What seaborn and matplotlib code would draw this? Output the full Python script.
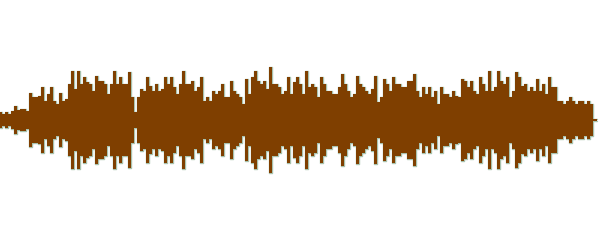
import numpy as np
import pandas as pd
import matplotlib
matplotlib.use("Agg")
import matplotlib.pyplot as plt
import seaborn as sns

# Waveform peak amplitude, one value per 3-sample block
amp_0_75 = [8, 6, 8, 6, 9, 14, 10, 11, 11, 9, 27, 23, 23, 24, 33, 19, 26, 33, 19, 16, 27, 19, 21, 36, 49]
amp_75_150 = [31, 49, 36, 43, 38, 36, 29, 44, 39, 39, 36, 26, 36, 49, 36, 43, 36, 36, 48, 23, 8, 23, 31, 29, 43]
amp_150_225 = [34, 29, 36, 29, 31, 43, 36, 43, 33, 26, 36, 49, 36, 36, 39, 29, 33, 43, 19, 23, 19, 29, 26, 29, 36]
amp_225_300 = [23, 23, 39, 29, 26, 23, 16, 41, 26, 43, 49, 39, 36, 39, 31, 53, 36, 36, 33, 26, 29, 43, 26, 38, 43]
amp_300_375 = [36, 26, 49, 33, 36, 33, 23, 43, 36, 29, 29, 26, 26, 33, 46, 36, 29, 23, 26, 44, 36, 33, 29, 26, 31]
amp_375_450 = [44, 18, 23, 41, 36, 29, 43, 36, 36, 33, 33, 39, 39, 46, 29, 23, 33, 26, 33, 23, 29, 16, 33, 26, 26]
amp_450_525 = [23, 29, 24, 23, 41, 39, 33, 39, 29, 26, 43, 36, 29, 49, 29, 33, 49, 39, 36, 43, 23, 29, 48, 43, 34]
amp_525_600 = [36, 29, 33, 29, 41, 29, 36, 26, 43, 33, 33, 19, 19, 16, 19, 23, 19, 16, 19, 19, 16, 19, 16, 1, 1]

amplitude = (amp_0_75 + amp_75_150 + amp_150_225 + amp_225_300 +
             amp_300_375 + amp_375_450 + amp_450_525 + amp_525_600)
sample = np.arange(len(amplitude)) * 3

df = pd.DataFrame({"sample": sample, "top": amplitude,
                   "bottom": [-a for a in amplitude]})

BROWN = "#7f3f00"
GREEN = "#6f9a78"

sns.set_theme(style="white")
fig = plt.figure(figsize=(6, 2.4), dpi=100)
ax = fig.add_axes([0, 0, 1, 1])

sns.lineplot(data=df, x="sample", y="top", ax=ax, color=GREEN,
             linewidth=1.0, alpha=0.6, drawstyle="steps-mid")
sns.lineplot(data=df, x="sample", y="bottom", ax=ax, color=GREEN,
             linewidth=1.0, alpha=0.6, drawstyle="steps-mid")
ax.fill_between(df["sample"], df["bottom"], df["top"], step="mid",
                color=BROWN, linewidth=0, zorder=3)

ax.set_xlim(0, 600)
ax.set_ylim(-120, 120)
ax.axis("off")
fig.savefig("out.png", dpi=100, facecolor="white")
